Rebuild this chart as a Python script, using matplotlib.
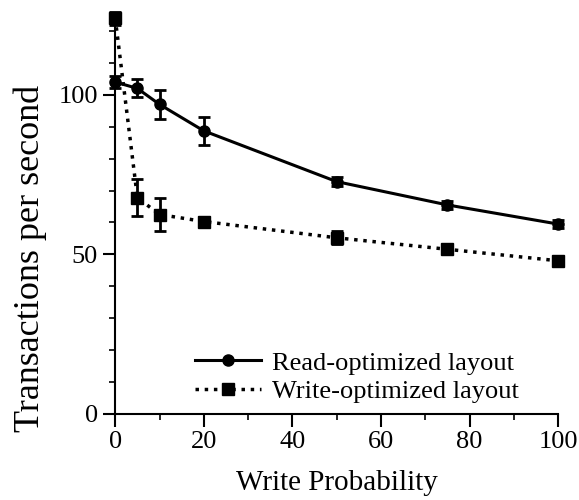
import matplotlib.pyplot as plt
from matplotlib.ticker import MultipleLocator

plt.rcParams['font.family'] = ['Liberation Serif', 'DejaVu Serif']

write_prob = [0, 5, 10, 20, 50, 75, 100]
read_opt = [104, 102, 97, 88.7, 72.8, 65.5, 59.5]
read_err = [2, 2.8, 4.5, 4.5, 1.5, 1.3, 1.2]
write_opt = [124, 67.8, 62.5, 60.3, 55.2, 51.6, 48.0]
write_err = [2, 5.8, 5.3, 1.5, 2.0, 1.3, 1.3]

fig = plt.figure(figsize=(5.79, 5.0), dpi=100)
ax = fig.add_axes([0.199, 0.172, 0.765, 0.798])

ax.errorbar(write_prob, read_opt, yerr=read_err, color='black', linestyle='-',
            linewidth=2.2, marker='o', markersize=8, capsize=4.5, capthick=2,
            elinewidth=2, label='Read-optimized layout', clip_on=False, zorder=3)
ax.errorbar(write_prob, write_opt, yerr=write_err, color='black', linestyle=':',
            linewidth=2.5, marker='s', markersize=8, capsize=4.5, capthick=2,
            elinewidth=2, label='Write-optimized layout', clip_on=False, zorder=3)

ax.set_xlim(0, 100)
ax.set_ylim(0, 125)
ax.xaxis.set_major_locator(MultipleLocator(20))
ax.xaxis.set_minor_locator(MultipleLocator(10))
ax.yaxis.set_major_locator(MultipleLocator(50))
ax.yaxis.set_minor_locator(MultipleLocator(10))

for side in ['top', 'right']:
    ax.spines[side].set_visible(False)
for side in ['left', 'bottom']:
    ax.spines[side].set_linewidth(1.5)
ax.tick_params(which='major', direction='out', length=9, width=1.5, labelsize=19)
ax.tick_params(which='minor', direction='out', length=4.5, width=1.2)

ax.set_xlabel('Write Probability', fontsize=21, labelpad=12)
ax.set_ylabel('Transactions per second', fontsize=26)
ax.yaxis.set_label_coords(-0.155, 0.39)

# legend without error bar glyphs in the handles
handles, labels = ax.get_legend_handles_labels()
handles = [h[0] for h in handles]
leg = ax.legend(handles, labels, loc='lower right', bbox_to_anchor=(0.935, 0.0),
                frameon=False, fontsize=19, handlelength=2.5, handletextpad=0.4,
                labelspacing=0.2, borderaxespad=0.0)

fig.savefig('out.png', dpi=100)
